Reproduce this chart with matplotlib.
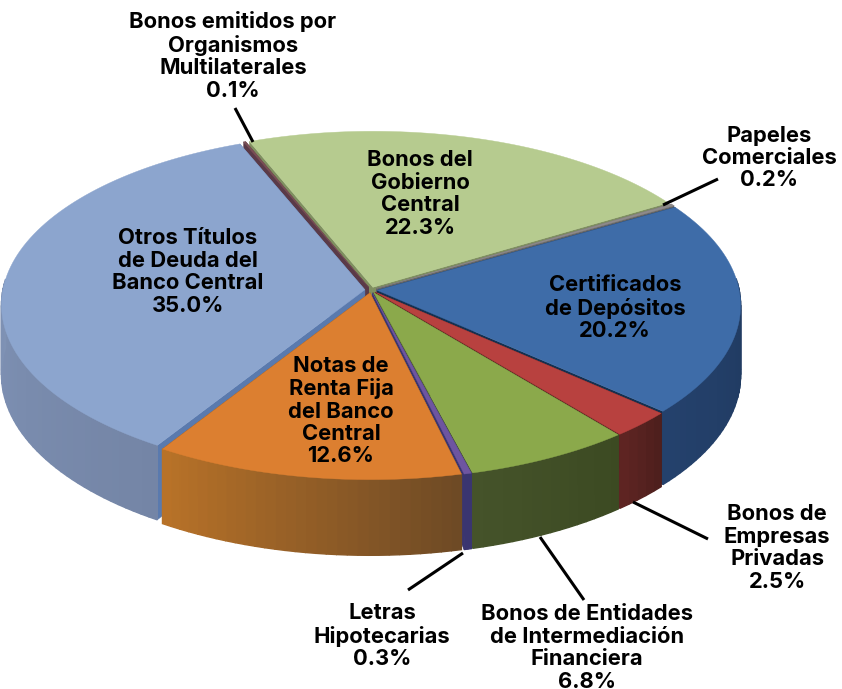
import numpy as np
import matplotlib
matplotlib.use('Agg')
import matplotlib.pyplot as plt
from matplotlib.colors import to_rgb
from matplotlib.patches import Polygon

labels = ['Otros Títulos\nde Deuda del\nBanco Central\n35.0%',
          'Bonos emitidos por\nOrganismos\nMultilaterales\n0.1%',
          'Bonos del\nGobierno\nCentral\n22.3%',
          'Papeles\nComerciales\n0.2%',
          'Certificados\nde Depósitos\n20.2%',
          'Bonos de\nEmpresas\nPrivadas\n2.5%',
          'Bonos de Entidades\nde Intermediación\nFinanciera\n6.8%',
          'Letras\nHipotecarias\n0.3%',
          'Notas de\nRenta Fija\ndel Banco\nCentral\n12.6%']
values = [35.0, 0.1, 22.3, 0.2, 20.2, 2.5, 6.8, 0.3, 12.6]
top_colors = ['#8CA5CE', '#7A4F55', '#B6CB8F', '#8E8A8A', '#3E6CA8',
              '#B8413F', '#8BA94B', '#6E55A0', '#DC7F30']
side_a = ['#7485A6', '#4A3040', '#6F7F55', '#555555', '#1D3557',
          '#4E1F1D', '#3C4A22', '#3A3570', '#6E4A25']
side_b = ['#8A9FC4', '#4A3040', '#6F7F55', '#555555', '#24416C',
          '#5E2422', '#45532A', '#3A3570', '#B87228']
wall_colors = ['#5A7AAE', '#5A3A48', '#7F8F60', '#666666', '#16304F',
               '#5A2020', '#4C5E2C', '#3A3570', '#7A4F20']
label_xy = [(188, 272), (233, 56), (420, 194), (769, 158), (615, 308),
            (777, 548), (587, 648), (382, 636), (341, 411)]
leaders = [((235, 108), (253, 142)), ((718, 179), (663, 205)),
           ((633, 502), (708, 539)), ((540, 537), (584, 600)),
           ((463, 553), (408, 590))]

start_angle = 122
cx, cy = 371, 290
a, b, k = 362, 170, 0.087
depth = 69
explode = 0.017

plt.rcParams['font.family'] = ['Inter', 'DejaVu Sans']
fig = plt.figure(figsize=(8.42, 6.89), dpi=100)
ax = fig.add_axes([0, 0, 1, 1])
ax.set_xlim(0, 842)
ax.set_ylim(689, 0)
ax.axis('off')


def project(u, v, h=0):
    w = 1 - k * v
    return cx + a * u / w, cy + (b * v + depth * h) / w


def rim(t, off_u, off_v, h=0):
    return project(np.cos(t) + off_u, np.sin(t) + off_v, h)


edges = start_angle + np.cumsum([0] + values) * 3.6
slices = []
for i in range(len(values)):
    t0, t1 = np.radians(edges[i]), np.radians(edges[i + 1])
    mid = (t0 + t1) / 2
    slices.append((np.sin(mid), i, t0, t1, mid))

for order, i, t0, t1, mid in sorted(slices):
    off_u, off_v = explode * np.cos(mid), explode * np.sin(mid)
    ts = np.linspace(t0, t1, max(3, int((t1 - t0) * 40)))
    zorder = 2 + order
    # cut faces
    for t in (t0, t1):
        p = [project(off_u, off_v), rim(t, off_u, off_v), rim(t, off_u, off_v, 1), project(off_u, off_v, 1)]
        ax.add_patch(Polygon(p, fc=wall_colors[i], ec=wall_colors[i], lw=0.3, zorder=zorder))
    # outer wall
    ca, cb = np.array(to_rgb(side_a[i])), np.array(to_rgb(side_b[i]))
    for j in range(len(ts) - 1):
        if np.sin(ts[j]) < -0.05 and np.sin(ts[j + 1]) < -0.05:
            continue
        f = j / max(1, len(ts) - 2)
        c = ca * (1 - f) + cb * f
        p = [rim(ts[j], off_u, off_v), rim(ts[j + 1], off_u, off_v),
             rim(ts[j + 1], off_u, off_v, 1), rim(ts[j], off_u, off_v, 1)]
        ax.add_patch(Polygon(p, fc=c, ec=c, lw=1.0, zorder=zorder))
    # top face
    xs, ys = rim(ts, off_u, off_v)
    p = [project(off_u, off_v)] + list(zip(xs, ys))
    ax.add_patch(Polygon(p, fc=top_colors[i], ec=top_colors[i], lw=0.3, zorder=zorder))

for p0, p1 in leaders:
    ax.plot([p0[0], p1[0]], [p0[1], p1[1]], color='black', lw=2.2, zorder=5, solid_capstyle='butt')

for text, (x, y) in zip(labels, label_xy):
    ax.text(x, y, text, ha='center', va='center', fontsize=15.8, fontweight='bold',
            linespacing=1.15, color='black', zorder=6)

fig.savefig('out.png', dpi=100)
